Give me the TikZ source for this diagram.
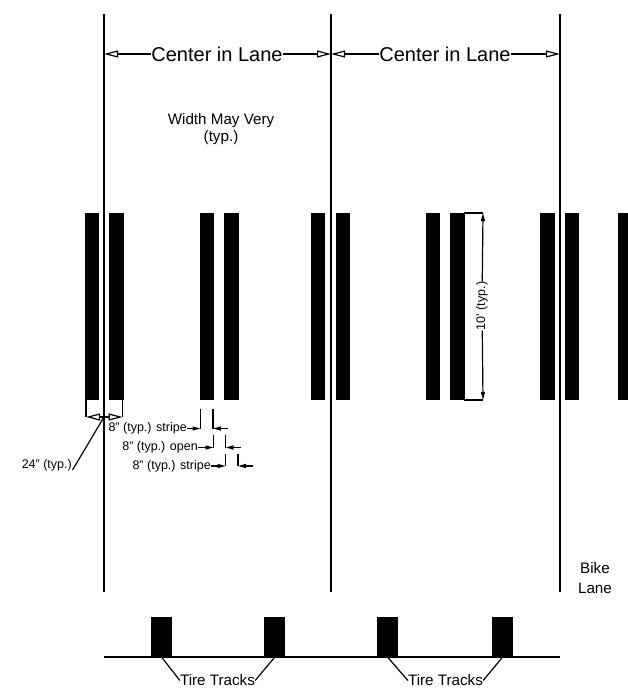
\documentclass[tikz,border=0pt]{standalone}
\usepackage{fontspec}
\setmainfont{Liberation Sans}
\usetikzlibrary{arrows.meta}
\tikzstyle{stripe}=[fill=black,inner sep=0,minimum width=14.5,minimum height=187]
\tikzstyle{track}=[fill=black,inner sep=0,minimum width=21.5,minimum height=40]
\tikzstyle{lane}=[line width=1.6]
\tikzstyle{leader}=[line width=1.2]
\tikzstyle{openarrow}=[line width=1.2,{Triangle[open,length=14,width=7]}-{Triangle[open,length=14,width=7]}]
\tikzstyle{solidarrow}=[line width=1.2,-{Triangle[length=8,width=4]}]
\tikzstyle{small}=[inner sep=0,font=\fontsize{12.5}{14}\selectfont]
\tikzstyle{medium}=[inner sep=0,align=center,font=\fontsize{15.2}{17}\selectfont]
\tikzstyle{large}=[inner sep=0,fill=white,font=\fontsize{20}{22}\selectfont]

\begin{document}
\begin{tikzpicture}[x=1pt,y=-1pt]
  \useasboundingbox (0,0) rectangle (628,689);
  % stripes
  \node[stripe] (s1) at (92.2,306.5) {};
  \node[stripe] (s2) at (116.7,306.5) {};
  \node[stripe] (s3) at (207.2,306.5) {};
  \node[stripe] (s4) at (231.7,306.5) {};
  \node[stripe] (s5) at (318.2,306.5) {};
  \node[stripe] (s6) at (343.2,306.5) {};
  \node[stripe] (s7) at (433,306.5) {};
  \node[stripe] (s8) at (457.5,306.5) {};
  \node[stripe] (s9) at (547.7,306.5) {};
  \node[stripe] (s10) at (572.2,306.5) {};
  \node[stripe,minimum width=10] (s11) at (623,306.5) {};
  % lane lines
  \coordinate (l1a) at (104,14);
  \coordinate (l1b) at (104,592);
  \coordinate (l1c) at (104,87);
  \coordinate (l2a) at (331,14);
  \coordinate (l2b) at (331,592);
  \coordinate (l2c) at (331,87);
  \coordinate (l3a) at (560,14);
  \coordinate (l3b) at (560,592);
  \draw[lane] (l1a) -- (l1b);
  \draw[lane] (l2a) -- (l2b);
  \draw[lane] (l3a) -- (l3b);
  % lane widths
  \coordinate (d1) at (104,54);
  \coordinate (d2) at (331,54);
  \coordinate (d3) at (560,54);
  \draw[lane,line width=2.4] (d1) -- (l1c);
  \draw[lane,line width=2.4] (d2) -- (l2c);
  \draw[openarrow] (d1) -- (d2);
  \draw[openarrow] (d2) -- (d3);
  \node[large] (c1) at (217,54) {Center in Lane};
  \node[large] (c2) at (445,54) {Center in Lane};
  \node[medium] (w) at (221,129) {Width May Very\\(typ.)};
  % 24 inch dimension
  \coordinate (a1) at (86,400);
  \coordinate (a2) at (86,417);
  \coordinate (a3) at (122.7,400);
  \coordinate (a4) at (122.7,417);
  \coordinate (a5) at (104,417);
  \draw[leader] (a1) -- (a2);
  \draw[leader] (a3) -- (a4);
  \draw[openarrow] (a2) -- (a4);
  \node[small,anchor=east] (t24) at (72,465) {24" (typ.)};
  \coordinate (a6) at (72.5,470);
  \draw[leader] (a5) -- (a6);
  % 8 inch dimensions
  \coordinate (b1) at (200.5,409);
  \coordinate (b2) at (200.5,428.5);
  \coordinate (b3) at (213,409);
  \coordinate (b4) at (213,428.5);
  \coordinate (b5) at (228,428.5);
  \draw[leader] (b1) -- (b2);
  \draw[leader] (b3) -- (b4);
  \node[small,anchor=east] (t1) at (187,428.5) {8" (typ.) stripe}
    edge [solidarrow] (b2);
  \draw[solidarrow] (b5) -- (b4);
  \coordinate (e1) at (213.5,435);
  \coordinate (e2) at (213.5,447.5);
  \coordinate (e3) at (225.5,435);
  \coordinate (e4) at (225.5,447.5);
  \coordinate (e5) at (240.5,447.5);
  \draw[leader] (e1) -- (e2);
  \draw[leader] (e3) -- (e4);
  \node[small,anchor=east] (t2) at (198,447.5) {8" (typ.) open}
    edge [solidarrow] (e2);
  \draw[solidarrow] (e5) -- (e4);
  \coordinate (f1) at (225.7,454);
  \coordinate (f2) at (225.7,466);
  \coordinate (f3) at (238,454);
  \coordinate (f4) at (238,466);
  \coordinate (f5) at (253,466);
  \draw[leader] (f1) -- (f2);
  \draw[leader] (f3) -- (f4);
  \node[small,anchor=east] (t3) at (211,466) {8" (typ.) stripe}
    edge [solidarrow] (f2);
  \draw[solidarrow] (f5) -- (f4);
  % 10 foot dimension
  \coordinate (g1) at (464,213);
  \coordinate (g2) at (483,213);
  \coordinate (g3) at (464,400);
  \coordinate (g4) at (483,400);
  \draw[leader] (g1) -- (g2);
  \draw[leader] (g3) -- (g4);
  \node[small,rotate=90,fill=white,inner ysep=1] (t10) at (482,306) {10' (typ.)}
    edge [solidarrow] (g2)
    edge [solidarrow] (g4);
  % tire tracks
  \node[medium,font=\fontsize{15.2}{20}\selectfont] (bike) at (595,578) {Bike\\Lane};
  \coordinate (r1) at (104,657);
  \coordinate (r2) at (560,657);
  \draw[lane] (r1) -- (r2);
  \node[track] (k1) at (161.7,637) {};
  \node[track] (k2) at (274.7,637) {};
  \node[track] (k3) at (387.7,637) {};
  \node[track] (k4) at (502.5,637) {};
  \node[medium] (n1) at (217.5,680.5) {Tire Tracks};
  \node[medium] (n2) at (445.5,680.5) {Tire Tracks};
  \draw[leader] (k1.south) -- (n1.west);
  \draw[leader] (k2.south) -- (n1.east);
  \draw[leader] (k3.south) -- (n2.west);
  \draw[leader] (k4.south) -- (n2.east);
\end{tikzpicture}
\end{document}
